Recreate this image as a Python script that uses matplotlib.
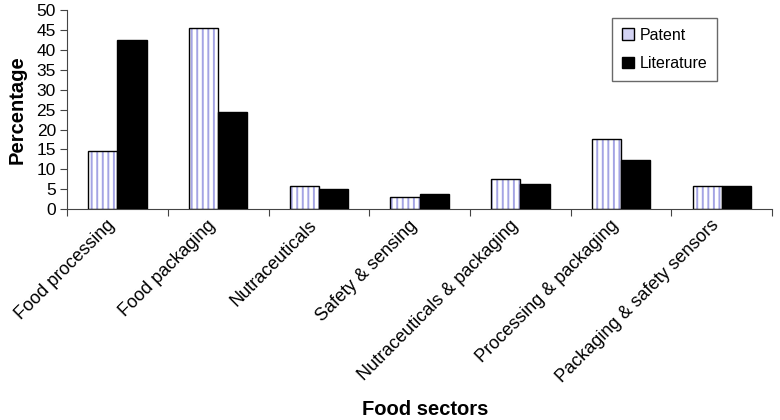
import matplotlib
matplotlib.use("Agg")
import matplotlib.pyplot as plt
import numpy as np

plt.rcParams['font.family'] = ['Liberation Sans', 'DejaVu Sans']
plt.rcParams['hatch.linewidth'] = 1.4

# 数据
sectors = ["Food processing", "Food packaging", "Nutraceuticals", "Safety & sensing",
           "Nutraceuticals & packaging", "Processing & packaging",
           "Packaging & safety sensors"]
patent = [14.6, 45.4, 5.7, 3.0, 7.5, 17.7, 5.7]
literature = [42.5, 24.5, 5.0, 3.9, 6.4, 12.4, 5.7]

x = np.arange(len(sectors))
w = 0.29

fig = plt.figure(figsize=(7.8, 4.2), dpi=100)
ax = fig.add_axes([0.086, 0.502, 0.904, 0.474])

# 专利柱：白底 + 浅紫竖条纹，再叠一层黑色边框
ax.bar(x - w / 2, patent, w, color="white", edgecolor="#a4a4e4", hatch="|||",
       linewidth=0, zorder=2)
ax.bar(x - w / 2, patent, w, fill=False, edgecolor="black", linewidth=1.0,
       zorder=3, label="Patent")
ax.bar(x + w / 2, literature, w, color="black", edgecolor="black", linewidth=1.0,
       zorder=3, label="Literature")

ax.set_xlim(-0.5, len(sectors) - 0.5)
ax.set_ylim(0, 50)
ax.set_yticks(range(0, 51, 5))
ax.tick_params(axis="y", labelsize=12.5, length=5, direction="out", color="#444", pad=3)

ax.set_xticks(np.arange(-0.5, len(sectors), 1.0))
ax.set_xticklabels([])
ax.tick_params(axis="x", which="major", length=5, direction="out", color="#444")
ax.set_xticks(x - 0.05, minor=True)
ax.set_xticklabels(sectors, minor=True, rotation=45, ha="right", va="center",
                   rotation_mode="anchor", fontsize=13)
ax.tick_params(axis="x", which="minor", length=0, pad=10)

for s in ["top", "right"]:
    ax.spines[s].set_visible(False)
for s in ["left", "bottom"]:
    ax.spines[s].set_color("#444")

ax.set_ylabel("Percentage", fontsize=14.5, fontweight="bold", labelpad=7)
fig.text(0.545, 0.012, "Food sectors", fontsize=14.5, fontweight="bold", ha="center")

h, l = ax.get_legend_handles_labels()
leg = ax.legend(h, l, loc="upper left", bbox_to_anchor=(0.773, 0.96),
                fontsize=11.5, frameon=True, fancybox=False, edgecolor="#444",
                handlelength=0.75, handleheight=0.75, handletextpad=0.35,
                labelspacing=0.85, borderpad=0.6, borderaxespad=0)
leg.get_frame().set_linewidth(1.0)

# 图例里的专利色块：浅紫底
leg.legend_handles[0].set_facecolor("#d4d4f4")
leg.legend_handles[0].set_fill(True)

plt.savefig("out.png", dpi=100)
